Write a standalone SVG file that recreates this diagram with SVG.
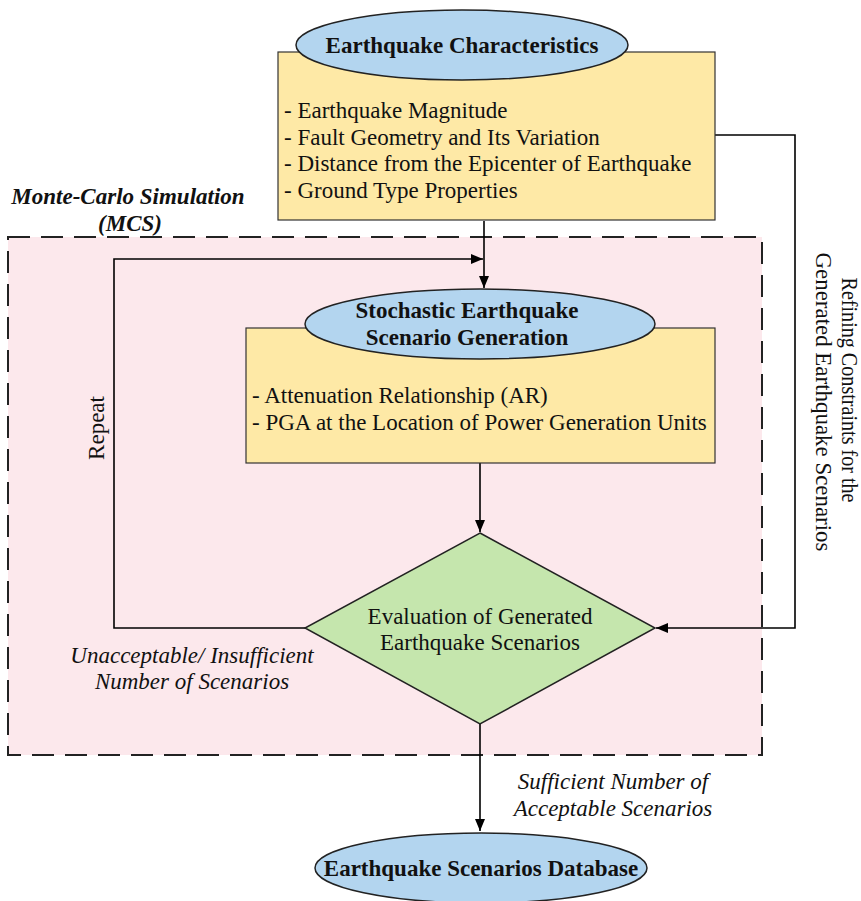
<svg xmlns="http://www.w3.org/2000/svg" width="861" height="901" viewBox="0 0 861 901">
<defs>
<marker id="arr" markerWidth="12" markerHeight="10" refX="12" refY="5" orient="auto" markerUnits="userSpaceOnUse">
<path d="M0,0 L12,5 L0,10 Z" fill="#000"/>
</marker>
<style>
.ell{fill:#b3d5ef;stroke:#222;stroke-width:1.5}
.box{fill:#fee9a6;stroke:#333;stroke-width:1.2}
.t{font-size:23px;fill:#111}
.b{font-weight:bold}
.i{font-style:italic}
.c{text-anchor:middle}
.ln{fill:none;stroke:#000;stroke-width:1.6}
</style>
</defs>
<rect width="861" height="901" fill="#fff"/>
<g font-family="'Liberation Serif', 'DejaVu Serif', serif">
<g id="mcs">
<rect x="8" y="237" width="754" height="518" fill="#fce8ec" stroke="#222" stroke-width="2" stroke-dasharray="22,11"/>
<text class="t b i c" x="128" y="204">Monte-Carlo Simulation</text>
<text class="t b i c" x="130" y="231">(MCS)</text>
</g>
<g id="connectors">
<path class="ln" d="M484,221 V288" marker-end="url(#arr)"/>
<path class="ln" d="M715,135 H795 V628 H656" marker-end="url(#arr)"/>
<path class="ln" d="M305,628 H114 V259 H483" marker-end="url(#arr)"/>
<path class="ln" d="M480,463 V532" marker-end="url(#arr)"/>
<path class="ln" d="M480,724 V831" marker-end="url(#arr)"/>
</g>
<g id="char">
<rect class="box" x="278" y="52" width="437" height="168"/>
<ellipse class="ell" cx="462" cy="45" rx="166" ry="35"/>
<text class="t b c" x="462" y="53">Earthquake Characteristics</text>
<text class="t" x="284" y="118">- Earthquake Magnitude</text>
<text class="t" x="284" y="145">- Fault Geometry and Its Variation</text>
<text class="t" x="284" y="171">- Distance from the Epicenter of Earthquake</text>
<text class="t" x="284" y="198">- Ground Type Properties</text>
</g>
<g id="gen">
<rect class="box" x="246" y="328" width="469" height="135"/>
<ellipse class="ell" cx="480" cy="324" rx="175" ry="35"/>
<text class="t b c" x="467" y="318">Stochastic Earthquake</text>
<text class="t b c" x="467" y="345">Scenario Generation</text>
<text class="t" x="252" y="403">- Attenuation Relationship (AR)</text>
<text class="t" x="252" y="430">- PGA at the Location of Power Generation Units</text>
</g>
<g id="eval">
<path d="M480,533 L655,628 L480,724 L305,628 Z" fill="#c5e6ad" stroke="#222" stroke-width="1.5"/>
<text class="t c" x="480" y="624">Evaluation of Generated</text>
<text class="t c" x="480" y="650">Earthquake Scenarios</text>
</g>
<g id="labels">
<text class="t c" transform="translate(104,428) rotate(-90)">Repeat</text>
<text class="t i c" x="192" y="663">Unacceptable/ Insufficient</text>
<text class="t i c" x="192" y="689">Number of Scenarios</text>
<text class="t c" transform="translate(842,390) rotate(90)" textLength="225" lengthAdjust="spacingAndGlyphs">Refining Constraints for the</text>
<text class="t c" transform="translate(816,402) rotate(90)" textLength="299" lengthAdjust="spacingAndGlyphs">Generated Earthquake Scenarios</text>
<text class="t i c" x="613" y="789">Sufficient Number of</text>
<text class="t i c" x="613" y="816">Acceptable Scenarios</text>
</g>
<g id="db">
<ellipse class="ell" cx="481" cy="868" rx="166" ry="35"/>
<text class="t b c" x="481" y="876">Earthquake Scenarios Database</text>
</g>
</g>
</svg>
